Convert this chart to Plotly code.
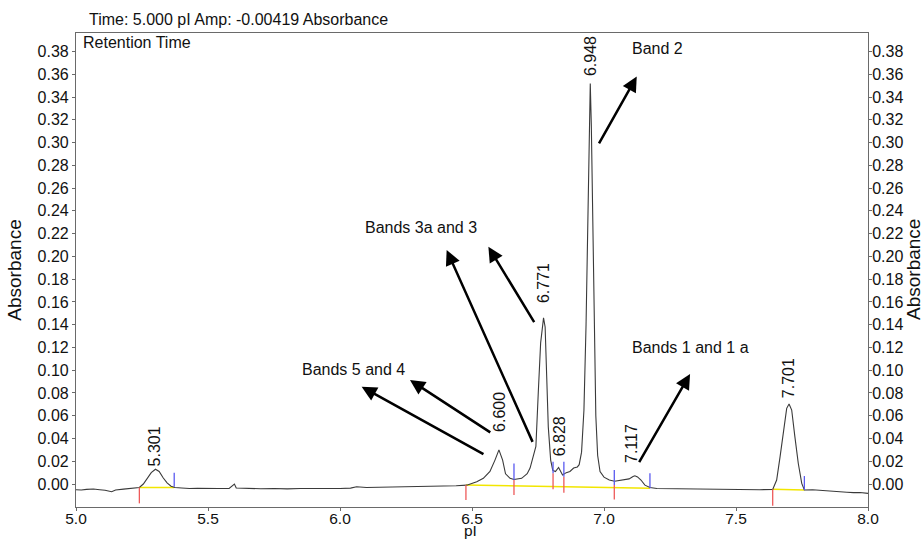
import plotly.graph_objects as go

# ---------------- data ----------------
pI = [5.000, 5.020, 5.040, 5.066, 5.090, 5.110, 5.135, 5.150, 5.180, 5.210,
      5.240, 5.255, 5.270, 5.285, 5.301, 5.315, 5.330, 5.345, 5.360, 5.375,
      5.400, 5.430, 5.460, 5.500, 5.540, 5.580, 5.595, 5.600, 5.607, 5.650,
      5.700, 5.750, 5.800, 5.850, 5.900, 5.950, 6.000, 6.040, 6.063, 6.100,
      6.150, 6.200, 6.250, 6.300, 6.350, 6.400, 6.440, 6.480, 6.518, 6.543,
      6.568, 6.587, 6.602, 6.616, 6.627, 6.644, 6.659, 6.688, 6.709, 6.720,
      6.732, 6.742, 6.751, 6.760, 6.771, 6.777, 6.783, 6.789, 6.798, 6.806,
      6.816, 6.828, 6.843, 6.857, 6.871, 6.885, 6.899, 6.906, 6.915, 6.924,
      6.932, 6.939, 6.944, 6.948, 6.952, 6.957, 6.963, 6.969, 6.976, 6.985,
      7.000, 7.020, 7.040, 7.070, 7.095, 7.110, 7.117, 7.127, 7.140, 7.155,
      7.174, 7.200, 7.250, 7.288, 7.330, 7.380, 7.414, 7.460, 7.500, 7.540,
      7.590, 7.639, 7.654, 7.667, 7.679, 7.692, 7.701, 7.711, 7.723, 7.736,
      7.749, 7.759, 7.790, 7.831, 7.860, 7.894, 7.920, 7.945, 7.970, 8.000]

absorbance = [-0.0050, -0.0052, -0.0047, -0.0044, -0.0050, -0.0055, -0.0068, -0.0052, -0.0045, -0.0040,
              -0.0030, 0.0000, 0.0045, 0.0100, 0.0130, 0.0110, 0.0055, 0.0010, -0.0020, -0.0030,
              -0.0035, -0.0040, -0.0038, -0.0042, -0.0040, -0.0038, -0.0010, 0.0000, -0.0035, -0.0040,
              -0.0042, -0.0039, -0.0043, -0.0040, -0.0041, -0.0038, -0.0040, -0.0036, -0.0024, -0.0030,
              -0.0028, -0.0030, -0.0028, -0.0025, -0.0020, -0.0018, -0.0015, -0.0010, 0.0020, 0.0050,
              0.0110, 0.0210, 0.0300, 0.0210, 0.0090, 0.0050, 0.0040, 0.0050, 0.0090, 0.0140,
              0.0240, 0.0330, 0.0800, 0.1240, 0.1460, 0.1380, 0.0940, 0.0500, 0.0210, 0.0120,
              0.0110, 0.0146, 0.0079, 0.0100, 0.0110, 0.0140, 0.0150, 0.0170, 0.0280, 0.0650,
              0.1400, 0.2400, 0.3150, 0.3520, 0.3150, 0.2300, 0.1300, 0.0600, 0.0250, 0.0110,
              0.0060, 0.0035, 0.0025, 0.0035, 0.0045, 0.0065, 0.0072, 0.0062, 0.0035, -0.0010,
              -0.0030, -0.0040, -0.0042, -0.0044, -0.0046, -0.0045, -0.0047, -0.0049, -0.0050, -0.0053,
              -0.0050, -0.0047, 0.0035, 0.0240, 0.0470, 0.0665, 0.0703, 0.0650, 0.0416, 0.0180,
              0.0006, -0.0053, -0.0050, -0.0055, -0.0062, -0.0068, -0.0072, -0.0076, -0.0075, -0.0082]

# integration baselines (yellow)
baseline_start = [5.240, 6.477, 7.639]
baseline_end = [5.372, 7.174, 7.759]
baseline_start_abs = [-0.0030, -0.0009, -0.0047]
baseline_end_abs = [-0.0030, -0.0038, -0.0053]

# peak start / end marks
red_mark_pI = [5.240, 6.477, 6.659, 6.807, 6.848, 7.039, 7.639]
red_mark_top = [-0.0030, -0.0009, 0.0035, 0.0094, 0.0064, -0.0009, -0.0047]
red_mark_bottom = [-0.0170, -0.0140, -0.0097, -0.0047, -0.0076, -0.0135, -0.0190]
blue_mark_pI = [5.372, 6.659, 6.807, 6.848, 7.039, 7.174, 7.759]
blue_mark_top = [0.0100, 0.0180, 0.0196, 0.0196, 0.0123, 0.0094, 0.0070]
blue_mark_bottom = [-0.0024, 0.0035, 0.0094, 0.0064, -0.0009, -0.0038, -0.0053]

# peak retention labels
peak_labels = ["5.301", "6.600", "6.771", "6.828", "6.948", "7.117", "7.701"]
peak_pI = [5.301, 6.600, 6.771, 6.828, 6.948, 7.117, 7.701]

# band annotations
band_labels = ["Band 2", "Bands 3a and 3", "Bands 5 and 4", "Bands 1 and 1 a"]

y_ticks = [round(0.02 * i, 2) for i in range(20)]
x_ticks = [5.0, 5.5, 6.0, 6.5, 7.0, 7.5, 8.0]

# ---------------- layout constants ----------------
FONT = "Liberation Sans, Arial, Helvetica, sans-serif"
Y_RANGE = [-0.0202, 0.3963]
FRAME = "#6a6a6a"
PLOT_W, PLOT_H = 792, 474

# label placement (layout only)
peak_label_x = [5.299, 6.606, 6.769, 6.830, 6.947, 7.102, 7.697]
peak_label_y = [0.033, 0.0633, 0.1766, 0.042, 0.376, 0.036, 0.093]
band_label_pos = [(7.098, 0.383), (6.087, 0.2258), (5.848, 0.1002), (7.098, 0.120)]
# arrows: (tail x, tail y, tip x, tip y)
arrows = [(6.978, 0.298, 7.124, 0.358),
          (6.739, 0.141, 6.562, 0.2085),
          (6.732, 0.0357, 6.404, 0.2056),
          (6.575, 0.0445, 6.265, 0.0914),
          (6.549, 0.0255, 6.082, 0.0855),
          (7.130, 0.018, 7.326, 0.0967)]

fig = go.Figure()

# yellow baselines
bx, by = [], []
for xs, xe, ys, ye in zip(baseline_start, baseline_end, baseline_start_abs, baseline_end_abs):
    bx += [xs, xe, None]
    by += [ys, ye, None]
fig.add_trace(go.Scatter(x=bx, y=by, mode="lines", line=dict(color="#f2e600", width=1.5),
                         hoverinfo="skip"))

# chromatogram
fig.add_trace(go.Scatter(x=pI, y=absorbance, mode="lines",
                         line=dict(color="#3a3a3a", width=1.1), name="Absorbance"))

# red / blue marks
rx, ry = [], []
for x, t, b in zip(red_mark_pI, red_mark_top, red_mark_bottom):
    rx += [x, x, None]
    ry += [t, b, None]
fig.add_trace(go.Scatter(x=rx, y=ry, mode="lines", line=dict(color="#ee5a5a", width=1.3),
                         hoverinfo="skip"))
ux, uy = [], []
for x, t, b in zip(blue_mark_pI, blue_mark_top, blue_mark_bottom):
    ux += [x, x, None]
    uy += [t, b, None]
fig.add_trace(go.Scatter(x=ux, y=uy, mode="lines", line=dict(color="#5a5af0", width=1.3),
                         hoverinfo="skip"))

# invisible trace to carry the right axis
fig.add_trace(go.Scatter(x=[5.0], y=[0.0], yaxis="y2", mode="markers",
                         marker=dict(opacity=0), hoverinfo="skip"))

annotations = []
for txt, x, y in zip(peak_labels, peak_label_x, peak_label_y):
    annotations.append(dict(x=x, y=y, xref="x", yref="y", text=txt, showarrow=False,
                            textangle=-90, font=dict(size=16, family=FONT, color="#111")))
for txt, (x, y) in zip(band_labels, band_label_pos):
    annotations.append(dict(x=x, y=y, xref="x", yref="y", text=txt, showarrow=False,
                            xanchor="left", font=dict(size=16, family=FONT, color="#111")))
for (tx, ty, hx, hy) in arrows:
    annotations.append(dict(x=hx, y=hy, ax=tx, ay=ty, xref="x", yref="y", axref="x", ayref="y",
                            text="", showarrow=True, arrowhead=2, arrowsize=1.2,
                            arrowwidth=2.5, arrowcolor="#000"))
annotations.append(dict(x=11 / PLOT_W, y=1.0295, xref="paper", yref="paper", xanchor="left",
                        yanchor="middle", showarrow=False,
                        text="Time: 5.000 pI Amp: -0.00419 Absorbance",
                        font=dict(size=16, family=FONT, color="#111")))
annotations.append(dict(x=5 / PLOT_W, y=0.979, xref="paper", yref="paper", xanchor="left",
                        yanchor="middle", showarrow=False, text="Retention Time",
                        font=dict(size=16, family=FONT, color="#111")))
# right axis title
annotations.append(dict(x=1 + 45 / PLOT_W, y=0.5, xref="paper", yref="paper", xanchor="center",
                        yanchor="middle", showarrow=False, text="Absorbance", textangle=-90,
                        font=dict(size=19, family=FONT, color="#111")))
# x axis title
annotations.append(dict(x=0.4975, y=-34 / PLOT_H, xref="paper", yref="paper", xanchor="center",
                        yanchor="bottom", showarrow=False, text="pI",
                        font=dict(size=15.5, family=FONT, color="#111")))

fig.update_layout(
    width=924, height=541,
    margin=dict(l=76, r=56, t=33, b=34),
    paper_bgcolor="white", plot_bgcolor="white",
    showlegend=False,
    font=dict(family=FONT, size=16, color="#111"),
    annotations=annotations,
    xaxis=dict(range=[5.0, 8.0], tickvals=x_ticks, ticktext=[f"{v:.1f}" for v in x_ticks],
               ticks="outside", ticklen=3, tickcolor=FRAME, showline=True, linecolor=FRAME,
               linewidth=1.2, mirror=True, showgrid=False, zeroline=False,
               ticklabelstandoff=-6, automargin=False,
               tickfont=dict(size=15.5)),
    yaxis=dict(range=Y_RANGE, tickvals=y_ticks, ticktext=[f"{v:.2f}" for v in y_ticks],
               ticks="outside", ticklen=3, tickcolor=FRAME, showline=True, linecolor=FRAME,
               linewidth=1.2, mirror=True, showgrid=False, zeroline=False,
               title=dict(text="Absorbance", standoff=10, font=dict(size=19)), automargin=False,
               tickfont=dict(size=16)),
    yaxis2=dict(range=Y_RANGE, tickvals=y_ticks, ticktext=[f"{v:.2f}" for v in y_ticks],
                overlaying="y", side="right", ticks="outside", ticklen=3, tickcolor=FRAME,
                showline=False, showgrid=False, zeroline=False, ticklabelstandoff=-3,
                automargin=False, tickfont=dict(size=16)),
)

# remove the page's default body margin so the 924x541 figure fills the window exactly
fig.write_html("out.html", config={"displayModeBar": False},
               post_script="document.body.style.margin='0';document.body.style.overflow='hidden';")
